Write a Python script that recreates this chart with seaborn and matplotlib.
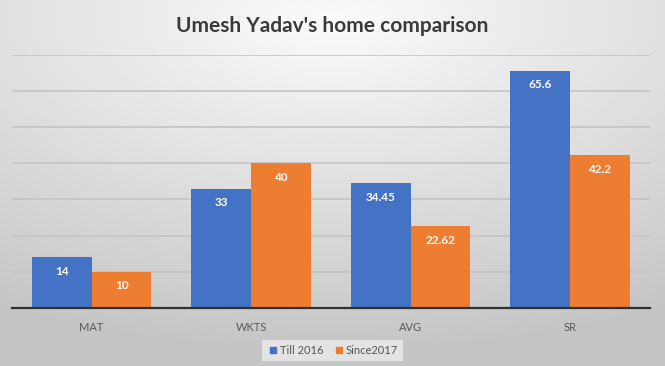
import numpy as np
import pandas as pd
import matplotlib
matplotlib.use("Agg")
import matplotlib.pyplot as plt
import seaborn as sns

categories = ["MAT", "WKTS", "AVG", "SR"]
till_2016 = [14, 33, 34.45, 65.6]
since_2017 = [10, 40, 22.62, 42.2]
series_names = ["Till 2016", "Since2017"]
title = "Umesh Yadav's home comparison"

df = pd.DataFrame({
    "cat": categories * 2,
    "val": till_2016 + since_2017,
    "series": [series_names[0]] * 4 + [series_names[1]] * 4,
})

sns.set_theme(style="white")
plt.rcParams["font.family"] = ["Lato", "DejaVu Sans"]

fig = plt.figure(figsize=(6.65, 3.66), dpi=100)

# background gradient
bg = fig.add_axes([0, 0, 1, 1], zorder=-10)
yy, xx = np.mgrid[0:1:200j, 0:1:300j]
d = np.sqrt(((xx - 0.5) * 1.0) ** 2 + ((yy - 0.05) * 1.1) ** 2)
g = 0.985 - 0.21 * np.clip(d, 0, 1)
bg.imshow(np.dstack([g, g, g]), aspect="auto", extent=[0, 1, 0, 1], origin="upper")
bg.axis("off")

ax = fig.add_axes([0.018, 0.1585, 0.959, 0.6918])
ax.patch.set_alpha(0)
sns.barplot(data=df, x="cat", y="val", hue="series", order=categories,
            hue_order=series_names, palette=["#4472C4", "#ED7D31"],
            width=0.75, gap=0, ax=ax, saturation=1, edgecolor="none", errorbar=None)
ax.set_ylim(0, 70)
ax.set_yticks(np.arange(10, 71, 10))
ax.yaxis.grid(True, color="#c4c4c4", linewidth=1.2)
ax.set_axisbelow(True)
ax.tick_params(axis="y", left=False, labelleft=False)
ax.tick_params(axis="x", bottom=False, labelsize=8, colors="#5a5a5a", pad=4)
for s in ["top", "right", "left"]:
    ax.spines[s].set_visible(False)
ax.spines["bottom"].set_color("#303030")
ax.spines["bottom"].set_linewidth(1.6)
ax.set_xlabel("")
ax.set_ylabel("")
ax.set_xlim(-0.5, 3.5)

for cont in ax.containers:
    for p in cont:
        h = p.get_height()
        ax.annotate(f"{h:g}", (p.get_x() + p.get_width() / 2, h),
                    xytext=(0, -6), textcoords="offset points",
                    ha="center", va="top", color="white", fontsize=8.5,
                    fontweight="bold")

ax.legend_.remove()
handles = [plt.Line2D([], [], marker="s", linestyle="none", markersize=4.5,
                      color=c) for c in ["#4472C4", "#ED7D31"]]
leg = fig.legend(handles, series_names, loc="center", bbox_to_anchor=(0.5, 0.042),
                 ncol=2, frameon=True, fontsize=8, handletextpad=0.1,
                 columnspacing=0.9, borderpad=0.45, fancybox=False,
                 handlelength=1.0)
leg.get_frame().set_facecolor("#ebebeb")
leg.get_frame().set_edgecolor("none")
for t in leg.get_texts():
    t.set_color("#555555")

fig.text(0.5, 0.93, title, ha="center", va="center", fontsize=15,
         fontweight="bold", color="#3a3a3a")

fig.savefig("out.png", dpi=100)
